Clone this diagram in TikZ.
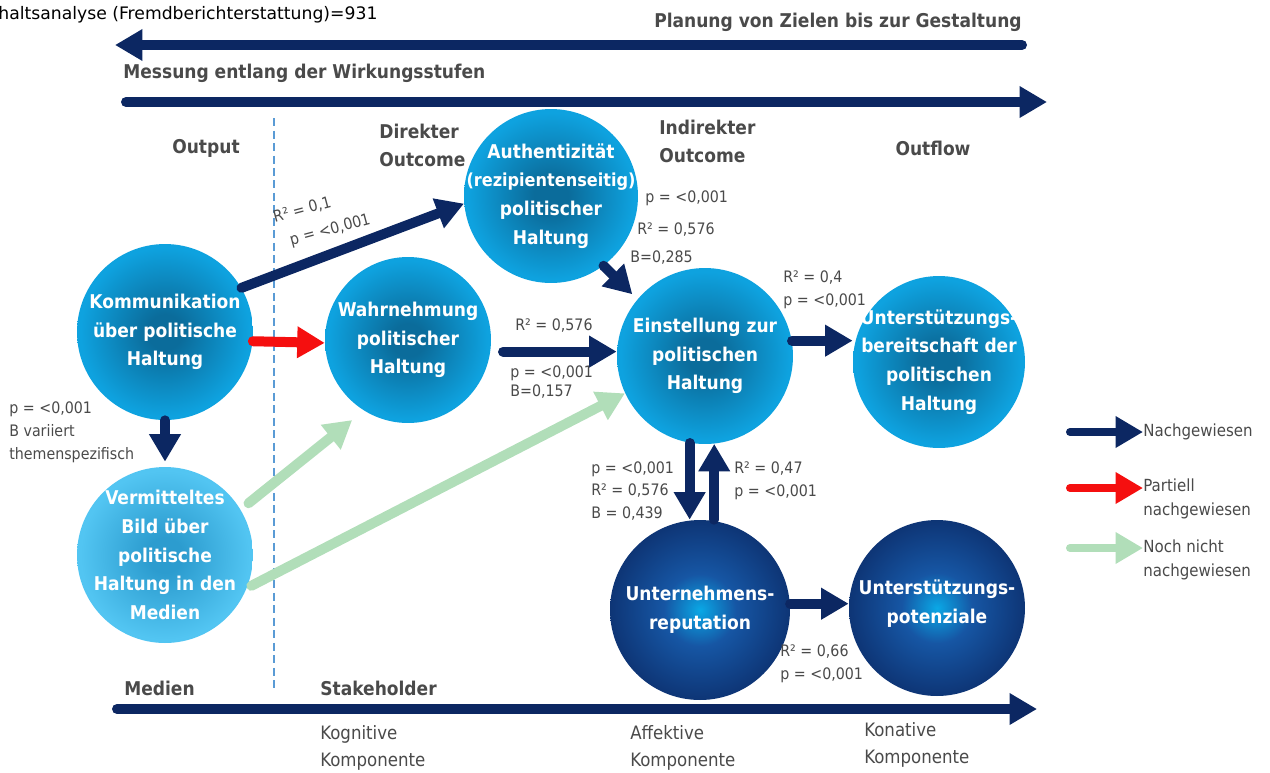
\documentclass[tikz,border=0pt]{standalone}
\usepackage{fontspec}
\setmainfont{DejaVu Sans Condensed}
\newfontfamily\widesans{DejaVu Sans}
\usepackage{tikz}
\usetikzlibrary{arrows.meta}

\definecolor{navy}{HTML}{0C2762}
\definecolor{partred}{HTML}{F50F0F}
\definecolor{palegreen}{HTML}{B1DEB9}
\definecolor{txtgray}{HTML}{4A4A4A}
\definecolor{dashblue}{HTML}{5A9BD5}
\definecolor{lcore}{HTML}{0B6C9B}
\definecolor{lrim}{HTML}{0EA2DF}
\definecolor{pcore}{HTML}{2C9CCF}
\definecolor{prim}{HTML}{52C5F2}
\definecolor{dcore}{HTML}{0AA8E6}
\definecolor{dmid}{HTML}{1656A4}
\definecolor{drim}{HTML}{0B2A66}

\pgfdeclareradialshading{lightball}{\pgfpointorigin}{color(0bp)=(lcore); color(5bp)=(lcore); color(24bp)=(lrim); color(50bp)=(lrim)}
\pgfdeclareradialshading{paleball}{\pgfpointorigin}{color(0bp)=(pcore); color(5bp)=(pcore); color(24bp)=(prim); color(50bp)=(prim)}
\pgfdeclareradialshading{darkball}{\pgfpointorigin}{color(0bp)=(dcore); color(10bp)=(dmid); color(30bp)=(drim); color(50bp)=(drim)}

\begin{document}
\begin{tikzpicture}[x=0.02cm, y=-0.02cm,
    ball/.style={circle, inner sep=0pt, shading=lightball},
    paleball/.style={circle, inner sep=0pt, shading=paleball},
    darkball/.style={circle, inner sep=0pt, shading=darkball},
    intxt/.style={text=white, font=\bfseries\fontsize{10.8}{16.4}\selectfont, align=center, inner sep=0pt},
    stat/.style={text=txtgray, font=\fontsize{9}{13}\selectfont, align=left, inner sep=0pt},
    head/.style={text=txtgray, font=\bfseries\fontsize{10.8}{16}\selectfont, align=left, inner sep=0pt},
    comp/.style={text=txtgray, font=\fontsize{10.5}{15.3}\selectfont, align=left, inner sep=0pt, anchor=west},
    legend/.style={text=txtgray, font=\fontsize{9.5}{13.5}\selectfont, align=left, inner sep=0pt, anchor=west},
    arrow/.style={line width=0.2cm, line cap=round, -{Triangle[width=0.6cm,length=0.55cm]}},
    proven/.style={arrow, draw=navy},
    partial/.style={arrow, draw=partred},
    pending/.style={arrow, draw=palegreen},
    bar/.style={arrow, draw=navy}
]
\useasboundingbox (0,0) rectangle (1270,772);

% heading
\node[stat, anchor=west, text=black, font=\widesans\fontsize{9.8}{12}\selectfont] (title) at (-2,15) {haltsanalyse (Fremdberichterstattung)=931};

% bars
\node[head, anchor=east] (plan) at (1022,22) {Planung von Zielen bis zur Gestaltung};
\coordinate (plan-a) at (1022,45);
\coordinate (plan-b) at (115,45);
\draw[bar] (plan-a) -- (plan-b);

\node[head, anchor=west] (mess) at (123,73) {Messung entlang der Wirkungsstufen};
\coordinate (mess-a) at (126,102);
\coordinate (mess-b) at (1047,102);
\draw[bar] (mess-a) -- (mess-b);

\coordinate (dash-a) at (274,118);
\coordinate (dash-b) at (274,692);
\draw[dashblue, line width=0.8pt, dash pattern=on 0.16cm off 0.09cm] (dash-a) -- (dash-b);

% stages
\node[head, anchor=center] (output) at (206,148) {Output};
\node[head, anchor=west] (direkt) at (379,145) {Direkter\\Outcome};
\node[head, anchor=west] (indirekt) at (659,141) {Indirekter\\Outcome};
\node[head, anchor=center] (outflow) at (933,148) {Outflow};

% circles
\node[ball, minimum size=3.52cm] (komm) at (165,332) {};
\node[paleball, minimum size=3.52cm] (verm) at (165,555) {};
\node[ball, minimum size=3.32cm] (wahr) at (408,340) {};
\node[ball, minimum size=3.48cm] (auth) at (551,196) {};
\node[ball, minimum size=3.52cm] (eins) at (705,356) {};
\node[ball, minimum size=3.44cm] (bereit) at (939,362) {};
\node[darkball, minimum size=3.6cm] (reput) at (700,610) {};
\node[darkball, minimum size=3.52cm] (potenz) at (937,608) {};

\node[intxt] (komm-t) at (komm) {Kommunikation\\über politische\\Haltung};
\node[intxt] (verm-t) at (verm) {Vermitteltes\\Bild über\\politische\\Haltung in den\\Medien};
\node[intxt] (wahr-t) at (wahr) {Wahrnehmung\\politischer\\Haltung};
\node[intxt] (auth-t) at (auth) {Authentizität\\{\fontsize{10.2}{16.4}\selectfont(rezipientenseitig)}\\politischer\\Haltung};
\node[intxt] (eins-t) at (eins) {Einstellung zur\\politischen\\Haltung};
\node[intxt] (bereit-t) at (bereit) {Unterstützungs-\\bereitschaft der\\politischen\\Haltung};
\node[intxt] (reput-t) at (reput) {Unternehmens-\\reputation};
\node[intxt] (potenz-t) at ([yshift=0.08cm]potenz) {Unterstützungs-\\potenziale};

% effects
\draw[proven] (komm.30) -- (auth.185);
\draw[partial] (komm.-6) -- (wahr.182);
\draw[proven, shorten >=0.1cm] (komm.south) -- (verm.north);
\draw[pending, shorten <=0.2cm, shorten >=0.3cm] (verm.31) -- (wahr.238);
\draw[pending, shorten <=0.1cm] (verm.-22) -- (eins.205);
\draw[proven, shorten <=0.25cm] (wahr.-8) -- (wahr.-8 -| eins.west);
\draw[proven, shorten >=0.14cm] (auth.-53) -- (eins.140);
\draw[proven] (eins.10) -- (eins.10 -| bereit.west);
\draw[proven] (eins.-100) -- (eins.-100 |- reput.north);
\draw[proven] (reput.north -| eins.-84) -- (eins.-84);
\draw[proven] (reput.4) -- (reput.4 -| potenz.west);

% statistics
\node[stat, rotate=15, font=\fontsize{9}{15}\selectfont] (s-auth) at (322,219) {R² = 0,1\\\hspace{0.2cm}p = <0,001};
\node[stat, anchor=west] (s-wahr1) at (515,326) {R² = 0,576};
\node[stat, anchor=west, font=\fontsize{9}{11}\selectfont] (s-wahr2) at (510,382) {p = <0,001\\B=0,157};
\node[stat, anchor=west] (s-eins1) at (645,198) {p = <0,001};
\node[stat, anchor=west] (s-eins2) at (637,230) {R² = 0,576};
\node[stat, anchor=west] (s-eins3) at (630,258) {B=0,285};
\node[stat, anchor=west] (s-bereit) at (783,290) {R² = 0,4\\p = <0,001};
\node[stat, anchor=west] (s-rep1) at (591,491) {p = <0,001\\R² = 0,576\\B = 0,439};
\node[stat, anchor=west] (s-rep2) at (734,481) {R² = 0,47\\p = <0,001};
\node[stat, anchor=west] (s-pot) at (780,664) {R² = 0,66\\p = <0,001};
\node[stat, anchor=west] (s-verm) at (9,432) {p = <0,001\\B variiert\\themenspezifisch};

% legend
\node[legend] (nach) at (1143,432) {Nachgewiesen};
\node[legend] (part) at (1143,499) {Partiell\\nachgewiesen};
\node[legend] (noch) at (1143,560) {Noch nicht\\nachgewiesen};
\coordinate (lg-nach) at (1070,432);
\coordinate (lg-part) at (1070,488);
\coordinate (lg-noch) at (1070,548);
\draw[proven, line width=0.16cm] (lg-nach) -- (nach.west);
\draw[partial, line width=0.16cm] (lg-part) -- (lg-part -| part.west);
\draw[pending, line width=0.16cm] (lg-noch) -- (lg-noch -| noch.west);

% components
\node[head, anchor=west] (medien) at (124,688) {Medien};
\node[head, anchor=west] (stake) at (320,688) {Stakeholder};
\coordinate (komp-a) at (117,709);
\coordinate (komp-b) at (1037,709);
\draw[bar] (komp-a) -- (komp-b);
\node[comp] (kogn) at (320,748) {Kognitive\\Komponente};
\node[comp] (affe) at (630,748) {Affektive\\Komponente};
\node[comp] (kona) at (864,745) {Konative\\Komponente};
\end{tikzpicture}
\end{document}
